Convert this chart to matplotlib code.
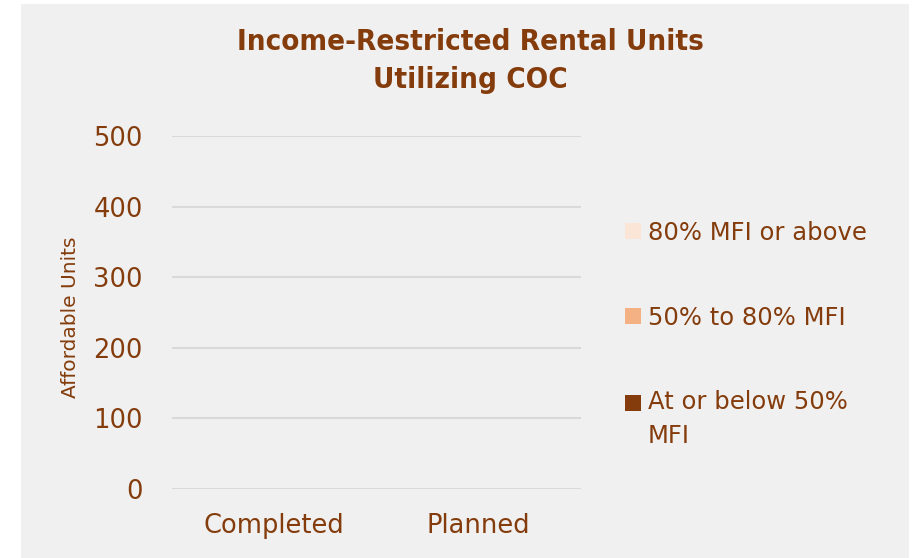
import matplotlib
matplotlib.use("Agg")
import matplotlib.pyplot as plt
from matplotlib.patches import Rectangle
from matplotlib import font_manager
import numpy as np

categories = ["Completed", "Planned"]
below_50 = [0, 0]
between_50_80 = [0, 0]
above_80 = [0, 0]
series_names = ["At or below 50%\nMFI", "50% to 80% MFI", "80% MFI or above"]
series_colors = ["#843C0C", "#F4B183", "#FBE5D6"]
yticks = [0, 100, 200, 300, 400, 500]

text_color = "#843C0C"
bg = "#F0F0F0"
font = "DejaVu Sans"

cond = [f.fname for f in font_manager.fontManager.ttflist if "Condensed" in f.fname and "Bold" in f.fname and "DejaVuSans" in f.fname and "Oblique" not in f.fname]
if cond:
    title_prop = font_manager.FontProperties(fname=cond[0], size=21.2)
else:
    title_prop = font_manager.FontProperties(family="DejaVu Sans", weight="bold", size=18)

fig = plt.figure(figsize=(9.17, 5.58), dpi=100)
fig.patch.set_facecolor("white")
fig.add_artist(Rectangle((21/917, 0), (909-21)/917, 1-4/558, transform=fig.transFigure,
                         facecolor=bg, edgecolor="none", zorder=0))

ax = fig.add_axes([172/917, 1-489/558, (581-172)/917, (489-136)/558])
ax.set_facecolor("none")
x = np.arange(len(categories))
bottom = np.zeros(len(categories))
handles = []
for vals, name, col in zip([below_50, between_50_80, above_80], series_names, series_colors):
    b = ax.bar(x, vals, width=0.5, bottom=bottom, color=col, label=name)
    bottom += np.array(vals)
    handles.append(b)

ax.set_xlim(-0.5, 1.5)
ax.set_ylim(0, 500)
ax.set_yticks(yticks)
ax.set_xticks(x)
ax.set_xticklabels(categories)
ax.yaxis.grid(True, color="#D9D9D9", linewidth=1.5)
ax.set_axisbelow(True)
for s in ax.spines.values():
    s.set_visible(False)
ax.tick_params(axis="both", length=0, labelcolor=text_color, labelsize=18.5)
ax.tick_params(axis="y", pad=21)
ax.tick_params(axis="x", pad=17)
for lab in ax.get_xticklabels() + ax.get_yticklabels():
    lab.set_fontfamily(font)

fig.text(70/917, 1-317/558, "Affordable Units", rotation=90, ha="center", va="center",
         color=text_color, fontsize=14.5, fontfamily=font)

fig.text(470/917, 1-42/558, "Income-Restricted Rental Units", ha="center", va="center",
         color=text_color, fontproperties=title_prop)
fig.text(470/917, 1-80/558, "Utilizing COC", ha="center", va="center",
         color=text_color, fontproperties=title_prop)

leg = fig.legend(handles[::-1], series_names[::-1], loc="upper left",
                 bbox_to_anchor=(603/917, 1-199/558), frameon=False,
                 handlelength=0.65, handleheight=0.65, handletextpad=0.3,
                 labelspacing=2.5, prop={"family": font, "size": 17.5})
for t in leg.get_texts():
    t.set_color(text_color)
    t.set_linespacing(1.48)
# align the square of the two-line entry with its first line
h = leg.legend_handles[2]
h.set_y(h.get_y() + 12)

fig.savefig("out.png", dpi=100, facecolor="white")
